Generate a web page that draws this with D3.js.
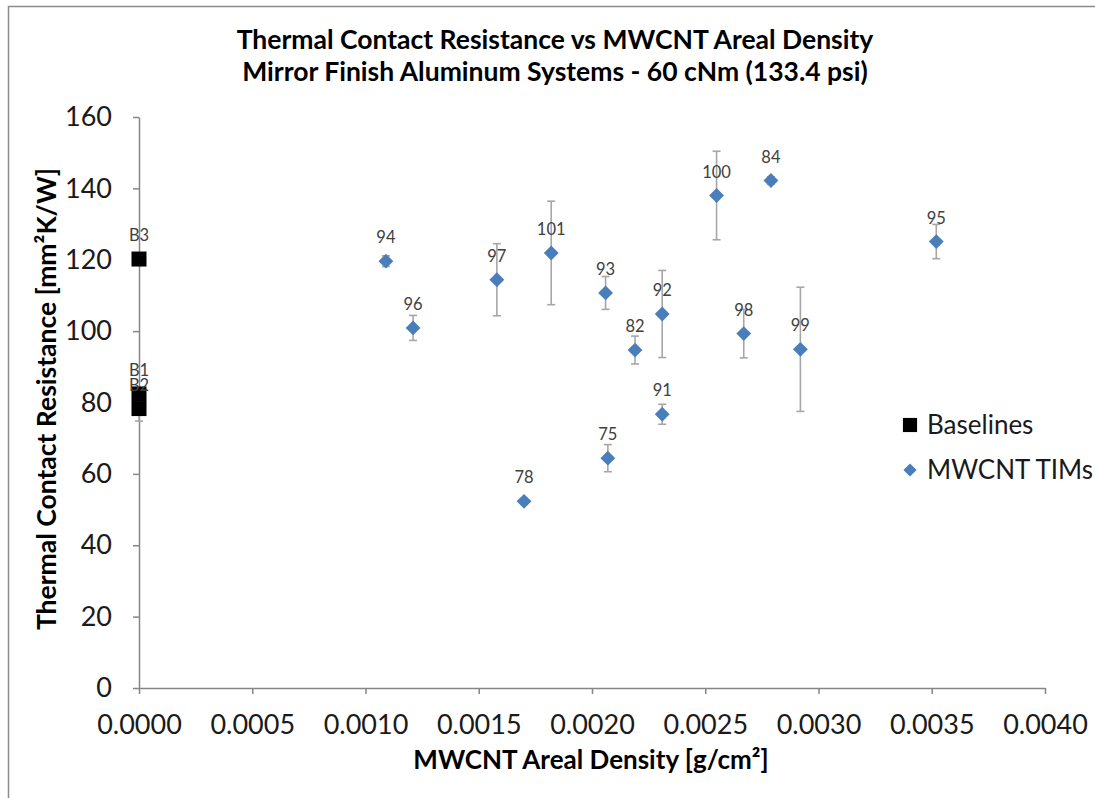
<!DOCTYPE html>
<html><head><meta charset="utf-8">
<script src="https://cdnjs.cloudflare.com/ajax/libs/d3/7.8.5/d3.min.js"></script>
<style>
  body { margin: 0; background: #fff; font-family: Lato, "Open Sans", sans-serif; }
  svg { display: block; }
</style>
</head>
<body>
<div id="chart"></div>
<script>
// baseline samples (bare interface, zero CNT)
const baseNames = ["B1", "B2", "B3"];
const baseX = [0, 0, 0];
const baseY = [82.4, 78.3, 120.2];
const baseErr = [1.0, 3.5, 1.0];

// MWCNT TIM samples
const timNames = ["94", "96", "97", "101", "78", "93", "75", "82", "92", "91", "100", "98", "84", "99", "95"];
const timX = [0.00109, 0.00121, 0.00158, 0.00182, 0.00170, 0.00206, 0.00207, 0.00219, 0.00231, 0.00231, 0.00255, 0.00267, 0.00279, 0.00292, 0.00352];
const timY = [119.6, 100.9, 114.4, 121.9, 52.3, 110.7, 64.4, 94.7, 104.8, 76.7, 138.0, 99.3, 142.2, 94.9, 125.1];
const timErr = [1.5, 3.5, 10.1, 14.5, 0.8, 4.6, 3.8, 3.9, 12.2, 2.8, 12.4, 6.8, 1.0, 17.4, 4.8];

const xTicks = [0, 0.0005, 0.001, 0.0015, 0.002, 0.0025, 0.003, 0.0035, 0.004];
const yTicks = [0, 20, 40, 60, 80, 100, 120, 140, 160];

const W = 1095, H = 798;
const margin = {left: 139, right: 50, top: 117, bottom: 110};

const svg = d3.select("#chart").append("svg")
  .attr("width", W).attr("height", H);

// outer chart frame
svg.append("rect")
  .attr("x", 8.5).attr("y", 6.5)
  .attr("width", 1200).attr("height", 1000)
  .attr("fill", "none").attr("stroke", "#8c8c8c").attr("stroke-width", 1.5);

const x = d3.scaleLinear().domain([0, 0.004]).range([margin.left, W - margin.right]);
const y = d3.scaleLinear().domain([0, 160]).range([H - margin.bottom, margin.top]);

const axisColor = "#868686";

const gx = svg.append("g")
  .attr("transform", `translate(0,${y(0)})`)
  .call(d3.axisBottom(x).tickValues(xTicks).tickFormat(d3.format(".4f"))
    .tickSize(6).tickSizeOuter(0).tickPadding(21));

const gy = svg.append("g")
  .attr("transform", `translate(${x(0)},0)`)
  .call(d3.axisLeft(y).tickValues(yTicks).tickFormat(d3.format("d"))
    .tickSize(6).tickSizeOuter(0).tickPadding(21));

[gx, gy].forEach(g => {
  g.select(".domain").attr("stroke", axisColor).attr("stroke-width", 1.5);
  g.selectAll(".tick line").attr("stroke", axisColor).attr("stroke-width", 1.5);
  g.selectAll(".tick text")
    .attr("fill", "#1a1a1a")
    .style("font-family", "Lato, sans-serif")
    .style("font-size", "27px");
});

// error bars
function errorBars(xs, ys, es) {
  const g = svg.append("g").attr("stroke", "#a6a6a6").attr("stroke-width", 1.6);
  xs.forEach((xv, i) => {
    const cx = x(xv), y0 = y(ys[i] - es[i]), y1 = y(ys[i] + es[i]);
    g.append("line").attr("x1", cx).attr("x2", cx).attr("y1", y0).attr("y2", y1);
    g.append("line").attr("x1", cx - 4).attr("x2", cx + 4).attr("y1", y0).attr("y2", y0);
    g.append("line").attr("x1", cx - 4).attr("x2", cx + 4).attr("y1", y1).attr("y2", y1);
  });
}
errorBars(baseX, baseY, baseErr);
errorBars(timX, timY, timErr);

const square = d3.symbol().type(d3.symbolSquare).size(225);
const diamond = d3.symbol().type(d3.symbolDiamond2).size(140);

// markers
svg.append("g").selectAll("path").data(timX).join("path")
  .attr("d", diamond)
  .attr("transform", (d, i) => `translate(${x(d)},${y(timY[i])})`)
  .attr("fill", "#4a7ebb");

svg.append("g").selectAll("path").data(baseX).join("path")
  .attr("d", square)
  .attr("transform", (d, i) => `translate(${x(d)},${y(baseY[i])})`)
  .attr("fill", "#000");

// point labels
const labelStyle = sel => sel
  .attr("text-anchor", "middle")
  .attr("fill", "#404040")
  .style("font-size", "16.5px");

svg.append("g").selectAll("text").data(timNames).join("text")
  .attr("x", (d, i) => x(timX[i]))
  .attr("y", (d, i) => y(timY[i]) - 18)
  .text(d => d)
  .call(labelStyle);

svg.append("g").selectAll("text").data(baseNames).join("text")
  .attr("x", (d, i) => x(baseX[i]))
  .attr("y", (d, i) => y(baseY[i]) - 18)
  .text(d => d)
  .call(labelStyle);

// titles
const title = svg.append("text")
  .attr("x", 555).attr("text-anchor", "middle")
  .attr("fill", "#000")
  .style("font-size", "26.5px").style("font-weight", "bold");
title.append("tspan").attr("x", 555).attr("y", 49)
  .text("Thermal Contact Resistance vs MWCNT Areal Density");
title.append("tspan").attr("x", 555).attr("y", 81)
  .text("Mirror Finish Aluminum Systems - 60 cNm (133.4 psi)");

svg.append("text")
  .attr("x", 591).attr("y", 769)
  .attr("text-anchor", "middle").attr("fill", "#000")
  .style("font-size", "26px").style("font-weight", "bold")
  .text("MWCNT Areal Density [g/cm²]");

svg.append("text")
  .attr("transform", "translate(56,399) rotate(-90)")
  .attr("text-anchor", "middle").attr("fill", "#000")
  .style("font-size", "26.5px").style("font-weight", "bold")
  .text("Thermal Contact Resistance [mm²K/W]");

// legend
const legend = svg.append("g").attr("transform", "translate(910,0)");
const legendItems = [
  {name: "Baselines", sym: d3.symbol().type(d3.symbolSquare).size(200), color: "#000", y: 425},
  {name: "MWCNT TIMs", sym: d3.symbol().type(d3.symbolDiamond2).size(110), color: "#4a7ebb", y: 470}
];
legendItems.forEach(it => {
  legend.append("path").attr("d", it.sym)
    .attr("transform", `translate(0,${it.y})`).attr("fill", it.color);
  legend.append("text").attr("x", 17).attr("y", it.y).attr("dy", "0.35em")
    .attr("fill", "#1a1a1a").style("font-size", "26px").text(it.name);
});
</script>
</body></html>
